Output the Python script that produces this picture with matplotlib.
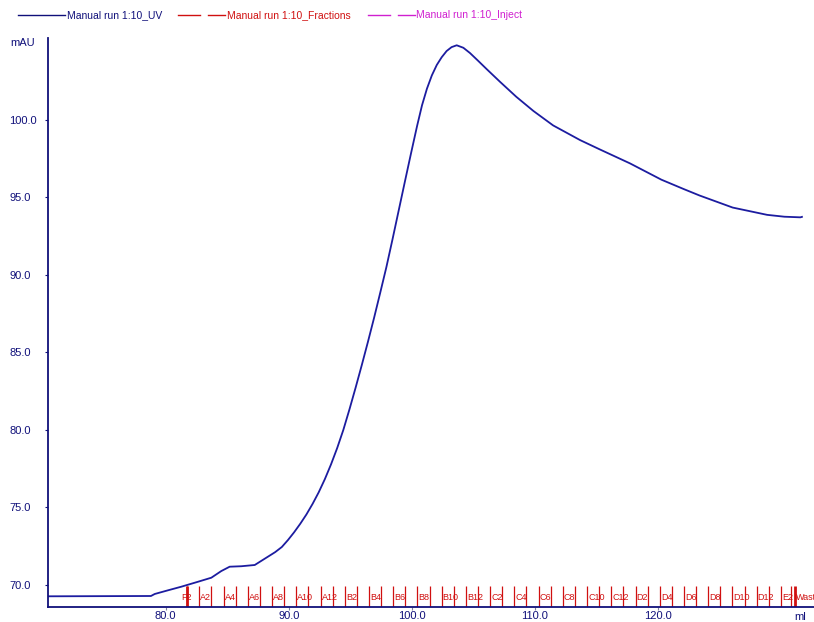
"""UV trace of a manual run with fraction marks."""

import matplotlib
matplotlib.use("Agg")
import matplotlib.pyplot as plt
from matplotlib.lines import Line2D
import matplotlib.transforms as mtransforms

plt.rcParams["font.family"] = ["Liberation Sans", "DejaVu Sans"]

NAVY = "#10107a"
CURVE = "#1c1ca0"
RED = "#d01010"
MAGENTA = "#d020d0"

# UV absorbance (ml, mAU)
volume_ml = [70.43, 78.80, 79.11, 80.20, 81.27, 82.63, 83.71, 84.52, 85.20, 86.15,
             87.24, 88.32, 88.90, 89.44, 89.94, 90.44, 90.94, 91.44, 91.94, 92.44,
             92.94, 93.44, 93.94, 94.44, 94.94, 95.44, 95.94, 96.44, 96.94, 97.44,
             97.94, 98.44, 98.94, 99.44, 99.94, 100.44, 100.84, 101.24, 101.64, 102.04,
             102.44, 102.84, 103.24, 103.66, 104.20, 104.74, 105.40, 106.10, 107.20, 108.50,
             109.90, 111.50, 113.70, 115.30, 117.75, 120.30, 122.10, 123.40, 126.10, 128.90,
             130.30, 131.60, 131.73]
uv_mau = [69.27, 69.29, 69.42, 69.66, 69.89, 70.21, 70.47, 70.90, 71.18, 71.21,
          71.29, 71.83, 72.12, 72.45, 72.90, 73.40, 73.95, 74.55, 75.23, 75.98,
          76.83, 77.78, 78.83, 80.00, 81.33, 82.73, 84.18, 85.68, 87.23, 88.85,
          90.50, 92.30, 94.15, 96.00, 97.83, 99.62, 100.95, 102.02, 102.88, 103.55,
          104.05, 104.45, 104.70, 104.82, 104.66, 104.32, 103.82, 103.28, 102.45, 101.50,
          100.58, 99.65, 98.70, 98.10, 97.20, 96.15, 95.55, 95.13, 94.35, 93.88,
          93.76, 93.72, 93.75]

# Fraction collector starts (ml)
frac_names = ["A1", "A2", "A3", "A4", "A5", "A6", "A7", "A8", "A9", "A10", "A11", "A12",
              "B1", "B2", "B3", "B4", "B5", "B6", "B7", "B8", "B9", "B10", "B11", "B12",
              "C1", "C2", "C3", "C4", "C5", "C6", "C7", "C8", "C9", "C10", "C11", "C12",
              "D1", "D2", "D3", "D4", "D5", "D6", "D7", "D8", "D9", "D10", "D11", "D12",
              "E1", "E2", "E3"]
frac_start = [81.75, 82.74, 83.72, 84.71, 85.69, 86.68, 87.66, 88.65, 89.63, 90.62, 91.60, 92.59,
              93.57, 94.56, 95.54, 96.53, 97.51, 98.50, 99.48, 100.47, 101.45, 102.44, 103.42, 104.41,
              105.39, 106.38, 107.36, 108.35, 109.33, 110.32, 111.30, 112.29, 113.27, 114.26, 115.24, 116.23,
              117.21, 118.20, 119.18, 120.17, 121.15, 122.14, 123.12, 124.11, 125.09, 126.08, 127.06, 128.05,
              129.03, 130.02, 130.80]
# events drawn as heavier marks
event_names = ["F2", "Waste"]
event_ml = [81.71, 131.16]

y_ticks = [70.0, 75.0, 80.0, 85.0, 90.0, 95.0, 100.0]
x_ticks = [80.0, 90.0, 100.0, 110.0, 120.0]

W, H = 814, 622
fig = plt.figure(figsize=(W / 100, H / 100), dpi=100)
ax = fig.add_axes([48 / W, 15 / H, 1 - 48 / W, (607 - 38) / H])
ax.set_xlim(70.43, 132.71)
ax.set_ylim(68.58, 105.29)

ax.plot(volume_ml, uv_mau, color=CURVE, linewidth=1.3)

for side in ("top", "right"):
    ax.spines[side].set_visible(False)
for side in ("left", "bottom"):
    ax.spines[side].set_color(NAVY)
    ax.spines[side].set_linewidth(1.3)

ax.set_yticks(y_ticks)
ax.set_yticklabels([f"{v:.1f}" for v in y_ticks])
ax.set_xticks(x_ticks)
ax.set_xticklabels([f"{v:.1f}" for v in x_ticks])
ax.tick_params(axis="y", length=2, color=NAVY, labelcolor=NAVY, labelsize=8, pad=26)
ax.tick_params(axis="x", length=2, color="#8080a0", labelcolor=NAVY, labelsize=8, pad=1)
for lbl in ax.get_yticklabels():
    lbl.set_horizontalalignment("left")

fig.text(10 / W, 1 - 43 / H, "mAU", color=NAVY, fontsize=8, va="center")
ax.text(131.6, -0.008, "ml", color=NAVY, fontsize=8, ha="center", va="top",
        transform=mtransforms.blended_transform_factory(ax.transData, ax.transAxes))

# fraction marks along the bottom
trans = mtransforms.blended_transform_factory(ax.transData, ax.transAxes)
mark_h = 21 / (607 - 38)
ax.vlines(frac_start, 0, mark_h, color=RED, linewidth=0.9, transform=trans)
for name, x in zip(frac_names, frac_start):
    if int(name[1:]) % 2 == 0:
        ax.text(x + 0.08, 0.016, name, color=RED, fontsize=6.5, ha="left", va="center",
                transform=trans, clip_on=False)
ax.vlines(event_ml, 0, mark_h, color=RED, linewidth=2.0, transform=trans)
ax.text(event_ml[0], 0.016, event_names[0], color=RED, fontsize=6.5, ha="center",
        va="center", transform=trans)
ax.text(event_ml[1] + 0.1, 0.016, event_names[1], color=RED, fontsize=6.5, ha="left",
        va="center", transform=trans, clip_on=False)

# legend row
legend_y = 1 - 15 / H
items = [
    ([(18, 65)], "Manual run 1:10_UV", 67, NAVY),
    ([(178, 200), (208, 225)], "Manual run 1:10_Fractions", 227, RED),
    ([(368, 390), (398, 415)], "Manual run 1:10_Inject", 416, MAGENTA),
]
for segs, label, tx, col in items:
    for x0, x1 in segs:
        fig.add_artist(Line2D([x0 / W, x1 / W], [legend_y, legend_y], color=col,
                              linewidth=1.0, transform=fig.transFigure))
    fig.text(tx / W, legend_y, label, color=col, fontsize=7.5, va="center")

fig.savefig("out.png", dpi=100)
